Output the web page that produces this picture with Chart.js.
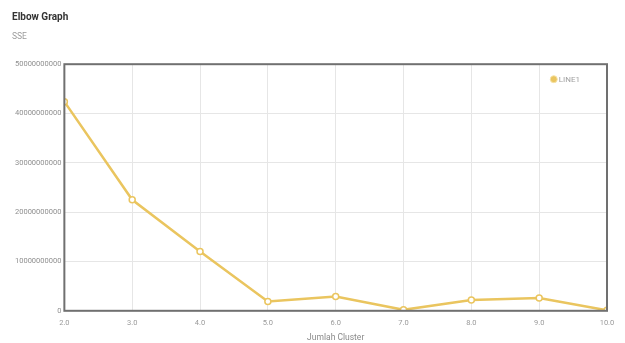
<!DOCTYPE html>
<html>
<head>
<meta charset="utf-8">
<script src="https://cdn.jsdelivr.net/npm/chart.js@4.4.1/dist/chart.umd.min.js"></script>
<style>
  html, body { margin: 0; padding: 0; background: #ffffff; }
  #wrap { width: 625px; height: 343px; }
</style>
</head>
<body>
<div id="wrap"><canvas id="chart" width="625" height="343"></canvas></div>
<script>
// Number of clusters (k) and the sum of squared errors for each k
const clusters = [2, 3, 4, 5, 6, 7, 8, 9, 10];
const sse = [42400000000, 22500000000, 12000000000, 1900000000, 2900000000, 200000000, 2200000000, 2600000000, 100000000];
const seriesName = 'LINE1';
const yTicks = [0, 10000000000, 20000000000, 30000000000, 40000000000, 50000000000];

const gold = '#eac55f';
const axisFont = { family: 'Roboto, sans-serif', size: 7.5 };

// Frame around the plotting area plus the series key in its top-right corner
const frame = {
  id: 'frame',
  afterDraw(chart) {
    const { ctx, chartArea: a } = chart;
    ctx.save();
    ctx.strokeStyle = '#707070';
    ctx.lineWidth = 2;
    ctx.strokeRect(a.left, a.top, a.right - a.left, a.bottom - a.top);

    const label = chart.data.datasets[0].label;
    ctx.font = "8px Roboto, sans-serif";
    const tw = ctx.measureText(label).width;
    const tx = a.right - 27 - tw;
    const cy = a.top + 15;
    ctx.fillStyle = gold;
    ctx.strokeStyle = '#f5e2a8';
    ctx.lineWidth = 1;
    ctx.beginPath();
    ctx.arc(tx - 5, cy, 3.5, 0, Math.PI * 2);
    ctx.fill();
    ctx.stroke();
    ctx.fillStyle = '#a0a0a0';
    ctx.textBaseline = 'middle';
    ctx.fillText(label, tx, cy + 0.5);
    ctx.restore();
  }
};

new Chart(document.getElementById('chart'), {
  type: 'line',
  data: {
    datasets: [{
      label: seriesName,
      data: clusters.map((k, i) => ({ x: k, y: sse[i] })),
      borderColor: gold,
      backgroundColor: gold,
      borderWidth: 2.5,
      pointRadius: 3,
      pointBorderWidth: 1.5,
      pointBackgroundColor: '#ffffff',
      pointBorderColor: gold,
      tension: 0,
      fill: false
    }]
  },
  options: {
    responsive: false,
    animation: false,
    layout: { padding: { left: 12, right: 18, top: 0, bottom: 0 } },
    plugins: {
      title: {
        display: true,
        text: 'Elbow Graph',
        align: 'start',
        color: '#333333',
        font: { family: 'Roboto, sans-serif', size: 10, weight: 'bold' },
        padding: { top: 11, bottom: 9 }
      },
      subtitle: {
        display: true,
        text: 'SSE',
        align: 'start',
        color: '#9a9a9a',
        font: { family: 'Roboto, sans-serif', size: 8.5 },
        padding: { bottom: 22 }
      },
      legend: { display: false },
      tooltip: { enabled: false }
    },
    scales: {
      x: {
        type: 'linear',
        min: clusters[0],
        max: clusters[clusters.length - 1],
        ticks: {
          stepSize: 1,
          color: '#9a9a9a',
          font: axisFont,
          padding: 8,
          callback: v => Number(v).toFixed(1)
        },
        grid: { color: '#e6e6e6', drawTicks: false },
        border: { display: false },
        title: {
          display: true,
          text: 'Jumlah Cluster',
          color: '#8a8a8a',
          font: { family: 'Roboto, sans-serif', size: 8.5 },
          padding: { top: -3, bottom: 0 }
        }
      },
      y: {
        min: yTicks[0],
        max: yTicks[yTicks.length - 1],
        afterBuildTicks(axis) { axis.ticks = yTicks.map(v => ({ value: v })); },
        ticks: {
          color: '#8f8f8f',
          font: axisFont,
          padding: 3,
          callback: v => String(v)
        },
        grid: { color: '#e6e6e6', drawTicks: false },
        border: { display: false }
      }
    }
  },
  plugins: [frame]
});
</script>
</body>
</html>
